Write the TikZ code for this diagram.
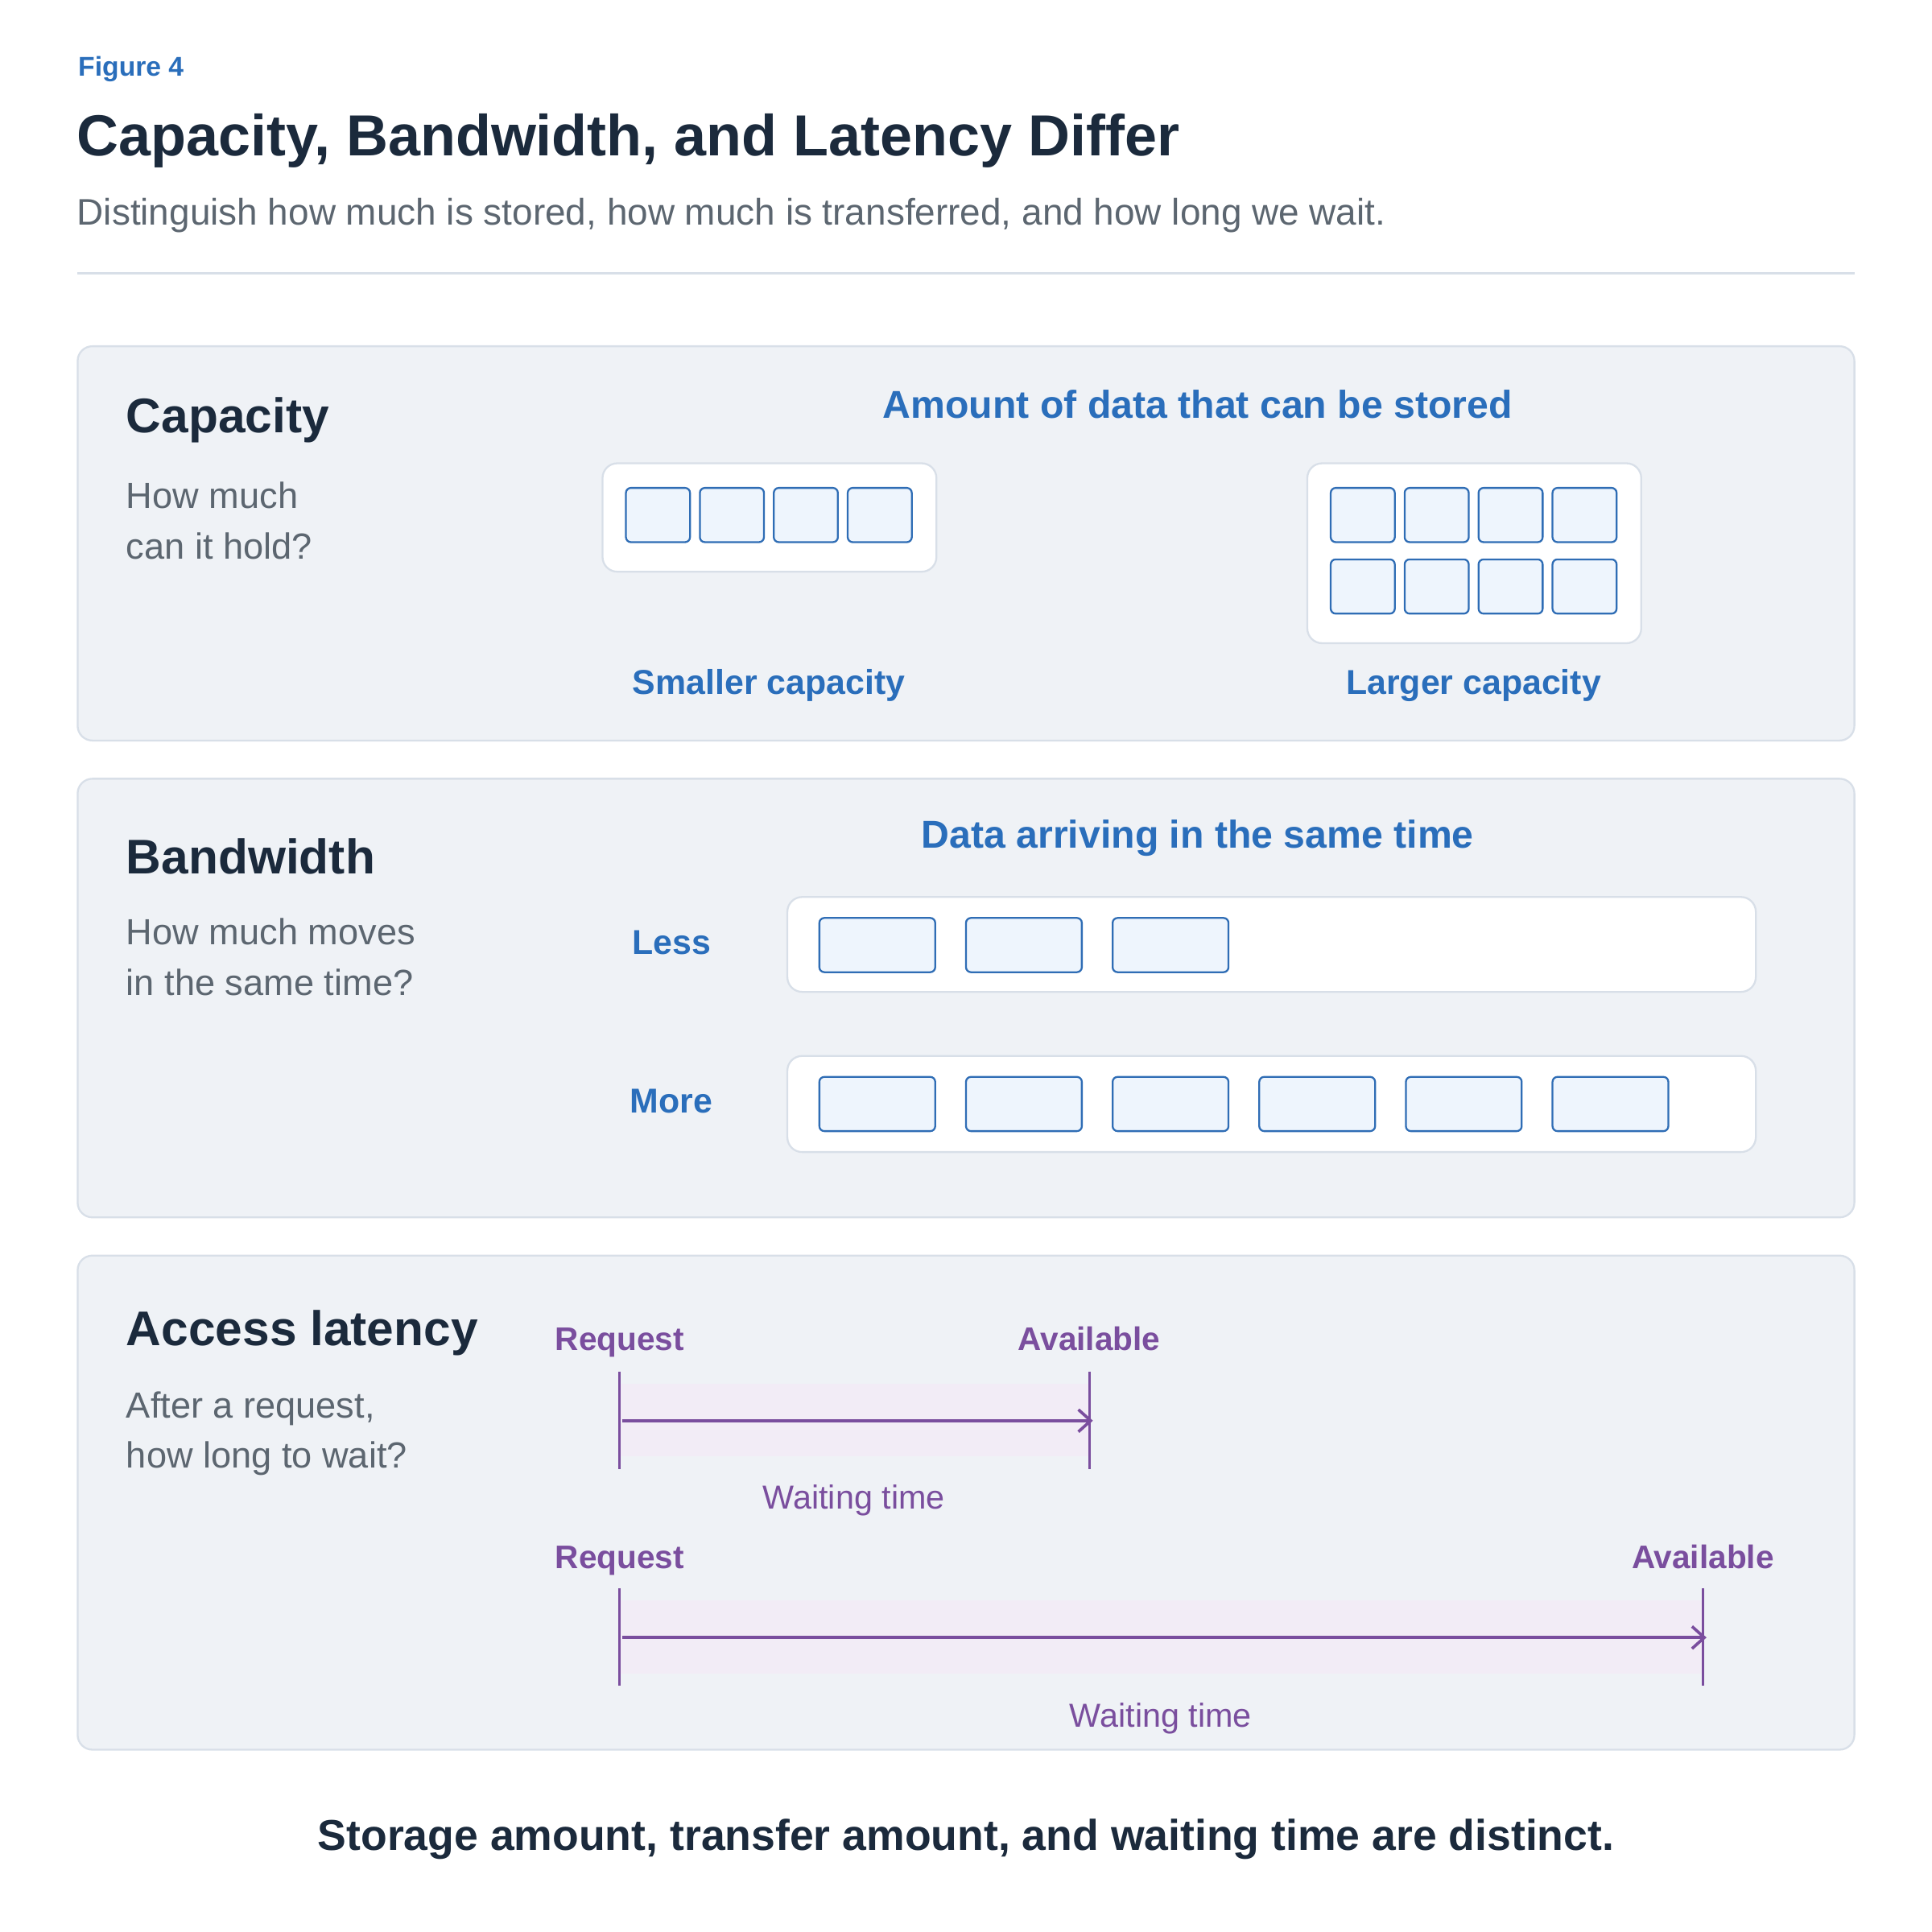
\documentclass[tikz,border=0pt]{standalone}
\usepackage{fontspec}
\setmainfont{Liberation Sans}
\definecolor{dark}{HTML}{1B2A3C}
\definecolor{gry}{HTML}{5C6670}
\definecolor{blu}{HTML}{2A6EBB}
\definecolor{pur}{HTML}{7A4E9E}
\definecolor{panel}{HTML}{EFF2F6}
\definecolor{pborder}{HTML}{D8DFE8}
\definecolor{cell}{HTML}{EEF5FD}
\definecolor{cellb}{HTML}{2F6DB5}
\definecolor{lilac}{HTML}{F2ECF6}
\tikzset{
 panel/.style={draw=pborder,fill=panel,rounded corners=12,line width=1.5},
 wbox/.style={draw=pborder,fill=white,rounded corners=12,line width=1.5},
 cellc/.style={draw=cellb,fill=cell,rounded corners=4,line width=1.5},
 head/.style={anchor=west,text=dark,font=\fontsize{39.5}{44}\selectfont\bfseries},
 sub/.style={anchor=west,text=gry,font=\fontsize{29.5}{32}\selectfont},
 btitle/.style={text=blu,font=\fontsize{31.5}{34}\selectfont\bfseries},
 blab/.style={text=blu,font=\fontsize{28}{32}\selectfont\bfseries},
 plab/.style={text=pur,font=\fontsize{26.5}{30}\selectfont\bfseries},
 wlab/.style={text=pur,font=\fontsize{27}{30}\selectfont},
 tick/.style={draw=pur,line width=2},
 arr/.style={draw=pur,line width=2.4,-{Straight Barb[length=10,width=18,line width=2.4]}},
}
\usetikzlibrary{arrows.meta}
\begin{document}
\begin{tikzpicture}[x=1pt,y=-1pt]
\useasboundingbox[fill=white] (0,0) rectangle (1568,1568);
\node[anchor=west,text=blu,font=\fontsize{22}{26}\selectfont\bfseries] (fig) at (60,56) {Figure 4};
\node[anchor=west,text=dark,font=\fontsize{47}{52}\selectfont\bfseries] (title) at (59,114) {Capacity, Bandwidth, and Latency Differ};
\node[anchor=west,text=gry,font=\fontsize{30}{34}\selectfont] (subt) at (59,175) {Distinguish how much is stored, how much is transferred, and how long we wait.};
\draw[pborder,line width=2] (63,222) -- (1505,222);
% panel 1
\draw[panel] (63,281) rectangle (1505,601);
\node[head] (cap) at (99,341) {Capacity};
\node[sub] at (99,402) {How much};
\node[sub] at (99,443) {can it hold?};
\node[btitle] (t1) at (972,328) {Amount of data that can be stored};
\draw[wbox] (489,376) rectangle (760,464);
\foreach \x in {508,568,628,688} \draw[cellc] (\x,396) rectangle ++(52,44);
\draw[wbox] (1061,376) rectangle (1332,522);
\foreach \x in {1080,1140,1200,1260} {\draw[cellc] (\x,396) rectangle ++(52,44);\draw[cellc] (\x,454) rectangle ++(52,44);}
\node[blab] (sc) at (624,556) {Smaller capacity};
\node[blab] (lc) at (1196,556) {Larger capacity};
% panel 2
\draw[panel] (63,632) rectangle (1505,988);
\node[head] (bw) at (99,695) {Bandwidth};
\node[sub] at (99,756) {How much moves};
\node[sub] at (99,797) {in the same time?};
\node[btitle] (t2) at (972,680) {Data arriving in the same time};
\node[blab] (less) at (545,765) {Less};
\node[blab] (more) at (545,894) {More};
\draw[wbox] (639,728) rectangle (1425,805);
\draw[wbox] (639,857) rectangle (1425,935);
\foreach \i in {0,1,2} \draw[cellc] (665+119*\i,745) rectangle ++(94,44);
\foreach \i in {0,...,5} \draw[cellc] (665+119*\i,874) rectangle ++(94,44);
% panel 3
\draw[panel] (63,1019) rectangle (1505,1420);
\node[head] (al) at (99,1082) {Access latency};
\node[sub] at (99,1143) {After a request,};
\node[sub] at (99,1184) {how long to wait?};
\node[plab,anchor=base] (r1) at (503,1096) {Request};
\node[plab,anchor=base] (a1) at (884,1096) {Available};
\fill[lilac] (503,1123) rectangle (884,1182);
\draw[tick] (503,1113) -- (503,1192);
\draw[tick] (884,1113) -- (884,1192);
\coordinate (s1) at (505,1153); \coordinate (e1) at (887,1153);
\draw[arr] (s1) -- (e1);
\node[wlab] (w1) at (693,1218) {Waiting time};
\node[plab,anchor=base] (r2) at (503,1273) {Request};
\node[plab,anchor=base] (a2) at (1382,1273) {Available};
\fill[lilac] (503,1299) rectangle (1382,1358);
\draw[tick] (503,1289) -- (503,1368);
\draw[tick] (1382,1289) -- (1382,1368);
\coordinate (s2) at (505,1329); \coordinate (e2) at (1385,1329);
\draw[arr] (s2) -- (e2);
\node[wlab] (w2) at (942,1395) {Waiting time};
\node[text=dark,font=\fontsize{35}{38}\selectfont\bfseries] (foot) at (784,1493) {Storage amount, transfer amount, and waiting time are distinct.};
\end{tikzpicture}
\end{document}
